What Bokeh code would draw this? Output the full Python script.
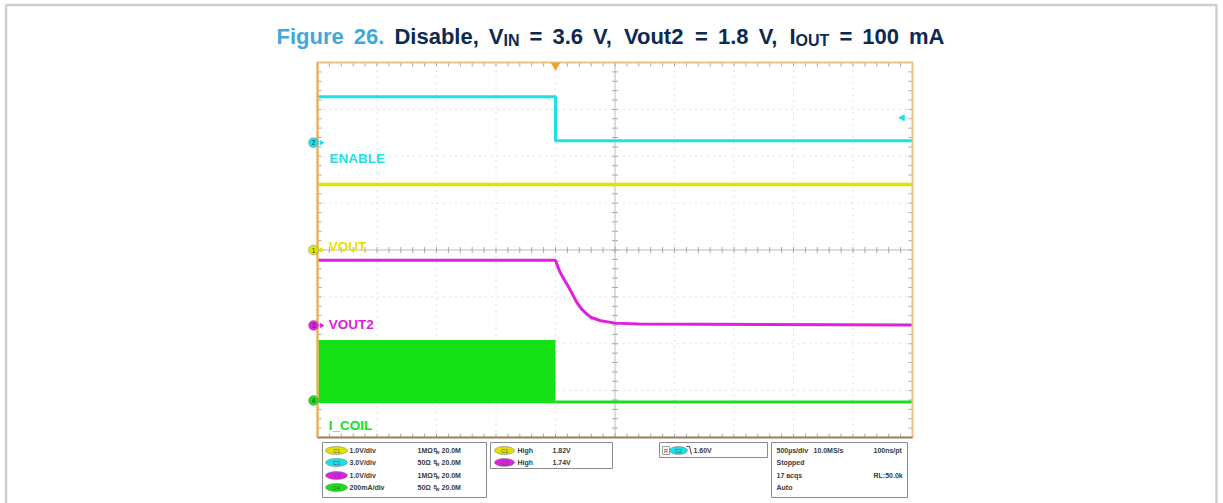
import numpy as np
from bokeh.plotting import figure
from bokeh.models import Range1d
from bokeh.embed import file_html
from bokeh.resources import INLINE
from bokeh.core.properties import value

# ---------------- data (scope screen divisions, time in µs, trigger at 0) ----------------
enable_t = [-2000, 0, 0, 3000]
enable_v = [3.27, 3.27, 2.33, 2.33]
vout_t = [-2000, 3000]
vout_v = [1.40, 1.40]
vout2_t = [-2000, 0, 20, 40, 70, 100, 140, 180, 220, 260, 300, 380, 500, 700, 3000]
vout2_v = [-0.22, -0.22, -0.36, -0.48, -0.62, -0.74, -0.93, -1.12, -1.26, -1.36, -1.44, -1.51, -1.56, -1.58, -1.60]
icoil_band_t = [-2000, 0]
icoil_band_top = [-1.92, -1.92]
icoil_band_bot = [-3.27, -3.27]
icoil_t = [0, 3000]
icoil_v = [-3.24, -3.24]

channel_ids = ["1", "2", "3", "4"]
channel_ground = [0.0, 2.29, -1.61, -3.21]
trace_names = ["VOUT", "ENABLE", "VOUT2", "I_COIL"]
trace_label_t = [-1905, -1900, -1905, -1905]
trace_label_v = [0.07, 1.95, -1.59, -3.74]
trigger_t = 0
trigger_level = 2.82

time_ticks = list(range(-2000, 3001, 500))
div_ticks = list(range(-4, 5))

# title words: (text, colour, main/sub, space before)
title_tokens = [("Figure", "blue", "main", 1), ("26.", "blue", "main", 1), ("Disable,", "navy", "main", 1),
                ("V", "navy", "main", 1), ("IN", "navy", "sub", 0), ("=", "navy", "main", 1),
                ("3.6", "navy", "main", 1), ("V,", "navy", "main", 1), ("Vout2", "navy", "main", 1),
                ("=", "navy", "main", 1), ("1.8", "navy", "main", 1), ("V,", "navy", "main", 1),
                ("I", "navy", "main", 1), ("OUT", "navy", "sub", 0), ("=", "navy", "main", 1),
                ("100", "navy", "main", 1), ("mA", "navy", "main", 1)]

ch_scale = ["1.0V/div", "3.0V/div", "1.0V/div", "200mA/div"]
ch_imp = ["1M\u03a9", "50\u03a9", "1M\u03a9", "50\u03a9"]
ch_bw = ["20.0M"] * 4
meas_ch = ["C1", "C3"]
meas_kind = ["High", "High"]
meas_val = ["1.82V", "1.74V"]
trig_text = "1.60V"
acq_rows = [["500\u00b5s/div", "10.0MS/s", "100ns/pt"], ["Stopped"], ["17 acqs", "RL:50.0k"], ["Auto"]]

# ---------------- styling / geometry ----------------
C_CYAN = "#1ee0e6"
C_YEL = "#e2e200"
C_MAG = "#e020e0"
C_GRN = "#16e016"
CH_COL = [C_YEL, C_CYAN, C_MAG, C_GRN]
BLUE = "#3fa9dd"
NAVY = "#0b2a52"
FONT = value("Liberation Sans")

W, H = 1223, 503
FL, FR, FT, FB = 317.0, 912.0, 62.0, 437.0
T0, T1, D0, D1 = -2000.0, 3000.0, -4.0, 4.0
sx = (FR - FL) / (T1 - T0)
sy = (FB - FT) / (D1 - D0)

p = figure(width=W, height=H, x_range=Range1d(0, W), y_range=Range1d(H, 0),
           output_backend="svg", toolbar_location=None, x_axis_type=None, y_axis_type=None,
           min_border=0)
p.outline_line_color = None
p.background_fill_color = "white"
p.border_fill_color = "white"
p.extra_x_ranges = {"scope": Range1d(T0 - FL / sx, T1 + (W - FR) / sx)}
p.extra_y_ranges = {"scope": Range1d(D0 - (H - FB) / sy, D1 + FT / sy)}
S = dict(x_range_name="scope", y_range_name="scope")
SX = dict(x_range_name="scope")
SY = dict(y_range_name="scope")

# outer page border
p.line([5.5, 5.5, 1216, 1216], [510, 4.5, 4.5, 510], line_color="#c7d0d5", line_width=2.5)

# ---------------- title ----------------
AW = {' ': 278, 'F': 611, 'i': 278, 'g': 611, 'u': 611, 'r': 389, 'e': 556, '2': 556, '6': 556, '.': 278,
      'D': 722, 's': 556, 'a': 556, 'b': 611, 'l': 278, ',': 278, 'V': 667, 'I': 278, 'N': 722, '=': 584,
      '3': 556, 'o': 611, 't': 333, '1': 556, '8': 556, 'O': 778, 'U': 722, 'T': 611, '0': 556, 'm': 889,
      'A': 722}
MAIN, SUB = 22.0, 16.0
TITLE_L, TITLE_R, base = 276.0, 944.0, 36
def tw(s, size):
    return sum(AW.get(c, 556) for c in s) / 1000.0 * size
sizes = [MAIN if k == "main" else SUB for _, _, k, _ in title_tokens]
natural = sum(tw(t, s) for (t, _, _, _), s in zip(title_tokens, sizes))
ngaps = sum(g for _, _, _, g in title_tokens[1:])
gap = (TITLE_R - TITLE_L - natural) / ngaps
x = TITLE_L
tx, ty, tt, tc, ts = [], [], [], [], []
for i, ((t, col, kind, g), size) in enumerate(zip(title_tokens, sizes)):
    if i > 0 and g:
        x += gap
    tx.append(x)
    ty.append(base if kind == "main" else base + 4)
    tt.append(t)
    tc.append(BLUE if col == "blue" else NAVY)
    ts.append("%gpx" % size)
    x += tw(t, size)
p.text(x=tx, y=ty, text=tt, text_color=tc, text_font_size=ts, text_font=FONT,
       text_font_style="bold", text_baseline="alphabetic", text_align="left")

# ---------------- scope grid ----------------
inner_t = [t for t in time_ticks if t not in (T0, T1, 500)]
inner_d = [d for d in div_ticks if d not in (D0, D1, 0)]
p.segment(x0=inner_t, y0=[D0] * len(inner_t), x1=inner_t, y1=[D1] * len(inner_t),
          line_color="#c4c4c4", line_width=1, line_dash="1 5", **S)
p.segment(x0=[T0] * len(inner_d), y0=inner_d, x1=[T1] * len(inner_d), y1=inner_d,
          line_color="#c4c4c4", line_width=1, line_dash="1 5", **S)
p.segment(x0=[500, T0], y0=[D0, 0], x1=[500, T1], y1=[D1, 0], line_color="#bcbcbc", line_width=1, **S)
minor_t = np.arange(T0, T1 + 1, 100)
minor_d = np.arange(D0, D1 + 0.01, 0.2)
# ticks on centre cross
p.segment(x0=minor_t, y0=-3 / sy, x1=minor_t, y1=3 / sy, line_color="#a8a8a8", line_width=1, **S)
p.segment(x0=500 - 3 / sx, y0=minor_d, x1=500 + 3 / sx, y1=minor_d, line_color="#a8a8a8", line_width=1, **S)
# ticks on frame edges
p.segment(x0=minor_t, y0=FT, x1=minor_t, y1=FT + 4, line_color="#a8a8a8", line_width=1, **SX)
p.segment(x0=minor_t, y0=FB, x1=minor_t, y1=FB - 4, line_color="#a8a8a8", line_width=1, **SX)
p.segment(x0=FL, y0=minor_d, x1=FL + 4, y1=minor_d, line_color="#a8a8a8", line_width=1, **SY)
p.segment(x0=FR, y0=minor_d, x1=FR - 4, y1=minor_d, line_color="#a8a8a8", line_width=1, **SY)

# ---------------- traces ----------------
p.varea(x=icoil_band_t, y1=icoil_band_bot, y2=icoil_band_top, fill_color=C_GRN, **S)
p.line(icoil_t, icoil_v, line_color=C_GRN, line_width=3, **S)
p.line(vout_t, vout_v, line_color=C_YEL, line_width=3.5, **S)
p.line(enable_t, enable_v, line_color=C_CYAN, line_width=3, **S)
p.line(vout2_t, vout2_v, line_color=C_MAG, line_width=3, **S)

# frame border
p.line([FL, FL, FR, FR], [FB, FT, FT, FB], line_color="#e9c27c", line_width=2)
p.line([FL, FR], [FB, FB], line_color="#9c7a58", line_width=2)
p.line([FL, FL], [FB, FT], line_color="#eeae52", line_width=2)

# channel ground markers and labels
p.scatter(x=[313] * 4, y=channel_ground, size=10, marker="circle", fill_color=CH_COL,
          line_color="#909090", line_width=0.5, **SY)
p.text(x=[313] * 4, y=channel_ground, text=channel_ids, text_font_size="6.5px", text_font=FONT,
       text_color="#333333", text_align="center", text_baseline="middle", **SY)
p.scatter(x=[321] * 4, y=channel_ground, size=4, marker="triangle", angle=-np.pi / 2,
          fill_color=CH_COL, line_color=CH_COL, **SY)
p.text(x=trace_label_t, y=trace_label_v, text=trace_names, text_color=CH_COL, text_font=FONT,
       text_font_style="bold", text_font_size="13.5px", text_baseline="alphabetic", text_align="left", **S)

# trigger markers
p.scatter(x=[trigger_t], y=[FT + 3], marker="inverted_triangle", size=8, fill_color="#f0a030",
          line_color="#f0a030", **SX)
p.scatter(x=[FR - 10], y=[trigger_level], marker="triangle", angle=np.pi / 2, size=6,
          fill_color=C_CYAN, line_color=C_CYAN, **SY)

# ---------------- info panel ----------------
BOX = "#8a8a8a"
p.quad(left=[322, 490, 659, 771], right=[486, 612, 767, 907], top=[442, 442, 442, 442],
       bottom=[497, 468, 457, 497], fill_color="white", line_color=BOX, line_width=1)
TF = dict(text_font=FONT, text_font_size="7px", text_color="#3a3a3a", text_baseline="middle",
          text_align="left", text_font_style="bold")
rows = [450, 462, 475, 487]
p.ellipse(x=[336] * 4, y=rows, width=22, height=8, fill_color=CH_COL, line_color="#707070", line_width=0.5)
p.text(x=[336] * 4, y=rows, text=["C1", "C2", "C3", "C4"], text_font=FONT, text_font_size="5.5px",
       text_color="#555555", text_align="center", text_baseline="middle")
p.text(x=[349] * 4, y=rows, text=ch_scale, **TF)
p.text(x=[417] * 4, y=rows, text=ch_imp, **TF)
p.text(x=[433] * 4, y=[r - 1 for r in rows], text=["B"] * 4, text_font=FONT, text_font_size="5px",
       text_color="#3a3a3a", text_baseline="middle", text_align="left", text_font_style="bold")
p.text(x=[435] * 4, y=[r + 1 for r in rows], text=["w"] * 4, text_font=FONT, text_font_size="5px",
       text_color="#3a3a3a", text_baseline="middle", text_align="left", text_font_style="bold")
p.text(x=[441] * 4, y=rows, text=ch_bw, **TF)

p.ellipse(x=[504, 504], y=rows[:2], width=20, height=8, fill_color=[C_YEL, C_MAG], line_color="#707070",
          line_width=0.5)
p.text(x=[504, 504], y=rows[:2], text=meas_ch, text_font=FONT, text_font_size="5.5px",
       text_color="#555555", text_align="center", text_baseline="middle")
p.text(x=[517, 517], y=rows[:2], text=meas_kind, **TF)
p.text(x=[552, 552], y=rows[:2], text=meas_val, **TF)

p.quad(left=[662], right=[669], top=[446], bottom=[454], fill_color="white", line_color="#777777", line_width=0.7)
p.text(x=[665.5], y=[450], text=["R"], text_font=FONT, text_font_size="5.5px", text_color="#333333",
       text_align="center", text_baseline="middle")
p.ellipse(x=[678], y=[450], width=18, height=8, fill_color=C_CYAN, line_color="#707070", line_width=0.5)
p.text(x=[678], y=[450], text=["C2"], text_font=FONT, text_font_size="5.5px", text_color="#555555",
       text_align="center", text_baseline="middle")
p.line([686, 689, 691], [446, 446, 454], line_color="#444444", line_width=1)
p.text(x=[693], y=[450], text=[trig_text], **TF)

ax, ay, at = [], [], []
cols = [776, 813, 873]
for r, row in zip(rows, acq_rows):
    for j, s in enumerate(row):
        ax.append(873 if (len(row) == 2 and j == 1) else cols[j])
        ay.append(r)
        at.append(s)
p.text(x=ax, y=ay, text=at, **TF)

open("out.html", "w").write(file_html(p, INLINE))
